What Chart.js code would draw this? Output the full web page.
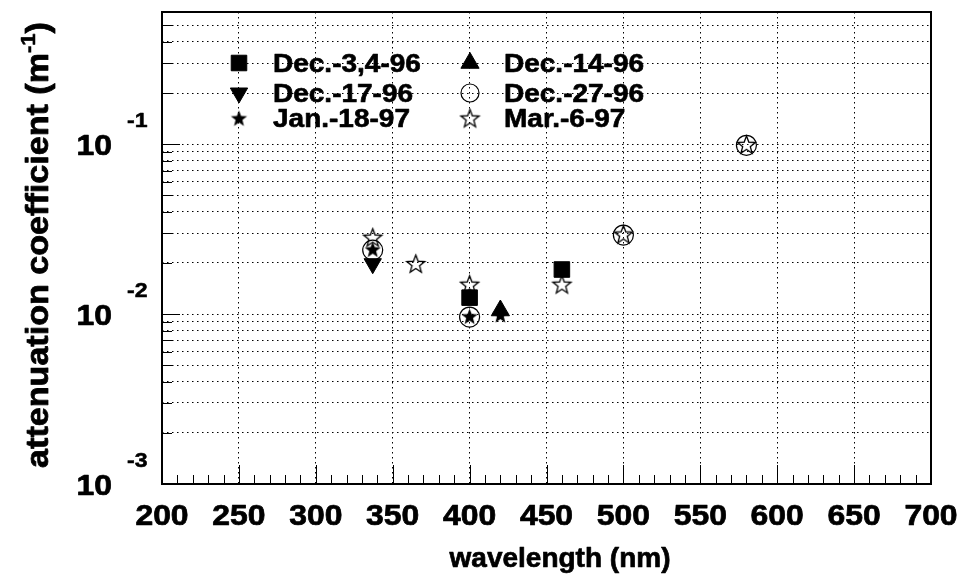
<!DOCTYPE html>
<html>
<head>
<meta charset="utf-8">
<script src="https://cdn.jsdelivr.net/npm/chart.js@4"></script>
<style>
  html, body { margin: 0; background: #fff; }
  #wrap { width: 961px; height: 575px; }
</style>
</head>
<body>
<div id="wrap"><canvas id="chart"></canvas></div>
<script>
// wavelength (nm) / attenuation coefficient (1/m) per measurement date
const seriesLabels = ["Dec.-3,4-96", "Dec.-14-96", "Dec.-17-96", "Dec.-27-96", "Jan.-18-97", "Mar.-6-97"];

const dec34Wl = [400, 460];
const dec34Att = [0.0125, 0.0183];

const dec14Wl = [420];
const dec14Att = [0.0105];

const dec17Wl = [337];
const dec17Att = [0.0198];

const dec27Wl = [337, 400, 500, 580];
const dec27Att = [0.0238, 0.0096, 0.0292, 0.0985];

const jan18Wl = [337, 400, 420];
const jan18Att = [0.0238, 0.0096, 0.0098];

const mar6Wl = [337, 365, 400, 460, 500, 580];
const mar6Att = [0.028, 0.0196, 0.0148, 0.0148, 0.0292, 0.0985];

const xTicks = [200, 250, 300, 350, 400, 450, 500, 550, 600, 650, 700];
const yDecades = [1e-3, 1e-2, 1e-1];
const yExponents = ["-3", "-2", "-1"];
const yMax = 0.6;

const FONT = "'Liberation Sans', Arial, Helvetica, sans-serif";

function starImage(r, filled) {
  const s = Math.ceil(r * 2 + 4);
  const c = document.createElement("canvas");
  c.width = c.height = s;
  const g = c.getContext("2d");
  g.beginPath();
  for (let i = 0; i < 10; i++) {
    const rr = i % 2 ? r * 0.42 : r;
    const a = -Math.PI / 2 + i * Math.PI / 5;
    g.lineTo(s / 2 + rr * Math.cos(a), s / 2 + rr * Math.sin(a));
  }
  g.closePath();
  if (filled) {
    g.fillStyle = "#000";
    g.fill();
  } else {
    g.lineWidth = 1.3;
    g.strokeStyle = "#000";
    g.stroke();
  }
  return c;
}

const filledStar = starImage(8.5, true);
const openStar = starImage(9.5, false);

function pts(xs, ys) {
  return xs.map((x, i) => ({ x, y: ys[i] }));
}

function series(i, xs, ys, style) {
  return Object.assign({
    label: seriesLabels[i],
    data: pts(xs, ys),
    showLine: false,
    order: 10 - i,
    backgroundColor: "#000",
    borderColor: "#000",
    borderWidth: 1,
    pointRadius: 10,
    pointHoverRadius: 10,
    rotation: 0
  }, style);
}

const datasets = [
  series(0, dec34Wl, dec34Att, { pointStyle: "rect", pointRadius: 11 }),
  series(1, dec14Wl, dec14Att, { pointStyle: "triangle", pointRadius: 10.5 }),
  series(2, dec17Wl, dec17Att, { pointStyle: "triangle", pointRadius: 10, rotation: 180 }),
  series(3, dec27Wl, dec27Att, { pointStyle: "circle", pointRadius: 10, backgroundColor: "rgba(0,0,0,0)", borderWidth: 1.2 }),
  series(4, jan18Wl, jan18Att, { pointStyle: filledStar }),
  series(5, mar6Wl, mar6Att, { pointStyle: openStar })
];

// y grid at every 1..9 multiple of each decade
const yGrid = [];
yDecades.forEach(d => {
  for (let k = 1; k <= 9; k++) {
    const v = d * k;
    if (v <= yMax * 1.0001) yGrid.push(+v.toPrecision(3));
  }
});

// heavy bold text, optionally stretched along the baseline
function text(ctx, str, x, y, size, align, sx) {
  ctx.save();
  ctx.font = "bold " + size + "px " + FONT;
  ctx.fillStyle = "#000";
  ctx.strokeStyle = "#000";
  ctx.lineWidth = size / 40;
  ctx.lineJoin = "round";
  ctx.textBaseline = "alphabetic";
  ctx.translate(x, y);
  ctx.scale(sx, 1);
  const w = ctx.measureText(str).width;
  let ox = 0;
  if (align === "center") ox = -w / 2;
  else if (align === "right") ox = -w;
  ctx.fillText(str, ox, 0);
  ctx.strokeText(str, ox, 0);
  ctx.restore();
  return w * sx;
}

function textWidth(ctx, str, size, sx) {
  ctx.save();
  ctx.font = "bold " + size + "px " + FONT;
  const w = ctx.measureText(str).width * sx;
  ctx.restore();
  return w;
}

const frame = {
  id: "frame",
  beforeDatasetsDraw(chart) {
    const { ctx, chartArea: a, scales: { x, y } } = chart;
    ctx.save();
    ctx.strokeStyle = "#000";
    ctx.lineWidth = 1;
    // x minor ticks every 10 nm, longer at labelled values
    ctx.beginPath();
    for (let v = 200; v <= 700; v += 10) {
      const px = Math.round(x.getPixelForValue(v)) + 0.5;
      const len = v % 50 === 0 ? 19 : 9;
      ctx.moveTo(px, a.bottom);
      ctx.lineTo(px, a.bottom - len);
    }
    // y ticks on the left edge
    yGrid.forEach(v => {
      const py = Math.round(y.getPixelForValue(v)) + 0.5;
      const major = yDecades.some(d => Math.abs(d - v) < d * 1e-6);
      ctx.moveTo(a.left, py);
      ctx.lineTo(a.left + (major ? 18 : 10), py);
    });
    ctx.stroke();
    ctx.lineWidth = 2;
    ctx.strokeRect(a.left, a.top, a.right - a.left, a.bottom - a.top);
    ctx.restore();
  },
  afterDraw(chart) {
    const { ctx, scales: { x, y } } = chart;
    // x tick labels
    xTicks.forEach(v => text(ctx, String(v), x.getPixelForValue(v), 525, 29, "center", 1.1));
    // y tick labels as powers of ten
    yDecades.forEach((d, i) => {
      const py = y.getPixelForValue(d);
      text(ctx, "10", 112, py + 10.5, 29, "right", 1.1);
      text(ctx, yExponents[i], 127, py - 17, 21, "left", 1.1);
    });
    // axis titles
    text(ctx, "wavelength (nm)", 560, 567, 28, "center", 1.0);
    const sx = 1.1;
    const w1 = textWidth(ctx, "attenuation coefficient (m", 31, sx);
    const w2 = textWidth(ctx, "-1", 20, sx);
    const w3 = textWidth(ctx, ")", 31, sx);
    const x0 = -(w1 + w2 + w3) / 2;
    ctx.save();
    ctx.translate(48, 245);
    ctx.rotate(-Math.PI / 2);
    text(ctx, "attenuation coefficient (m", x0, 0, 31, "left", sx);
    text(ctx, "-1", x0 + w1, -13, 20, "left", sx);
    text(ctx, ")", x0 + w1 + w2, 0, 31, "left", sx);
    ctx.restore();

    // legend, two columns
    const colX = [239, 470];
    const rowY = [63, 93, 119];
    const baseY = [72, 102, 127];
    chart.data.datasets.forEach((ds, i) => {
      const col = i % 2, row = Math.floor(i / 2);
      const mx = colX[col], my = rowY[row];
      ctx.save();
      ctx.fillStyle = ds.backgroundColor;
      ctx.strokeStyle = ds.borderColor;
      ctx.lineWidth = ds.borderWidth;
      if (ds.pointStyle instanceof HTMLCanvasElement) {
        const img = ds.pointStyle;
        ctx.drawImage(img, mx - img.width / 2, my - img.height / 2);
      } else {
        Chart.helpers.drawPoint(ctx, {
          pointStyle: ds.pointStyle,
          rotation: ds.rotation,
          radius: ds.pointStyle === "circle" ? 9 : ds.pointRadius,
          borderWidth: ds.borderWidth
        }, mx, my);
      }
      ctx.restore();
      text(ctx, ds.label, mx + 34, baseY[row], 25, "left", 1.12);
    });
  }
};

const gridDash = { display: false, dash: [1.5, 3.5] };

new Chart(document.getElementById("chart"), {
  type: "scatter",
  data: { datasets },
  options: {
    animation: false,
    responsive: true,
    maintainAspectRatio: false,
    events: [],
    layout: { padding: { left: 0, right: 30, top: 12, bottom: 0 } },
    plugins: { legend: { display: false }, tooltip: { enabled: false } },
    scales: {
      x: {
        type: "linear",
        min: 200,
        max: 700,
        afterFit(s) { s.height = 91; },
        afterBuildTicks(s) { s.ticks = xTicks.map(v => ({ value: v })); },
        ticks: { display: false },
        grid: { color: "#000", lineWidth: 1, drawTicks: false },
        border: gridDash
      },
      y: {
        type: "logarithmic",
        min: 1e-3,
        max: yMax,
        afterFit(s) { s.width = 162; },
        afterBuildTicks(s) { s.ticks = yGrid.map(v => ({ value: v })); },
        ticks: { display: false },
        grid: { color: "#000", lineWidth: 1, drawTicks: false },
        border: gridDash
      }
    }
  },
  plugins: [frame]
});
</script>
</body>
</html>
